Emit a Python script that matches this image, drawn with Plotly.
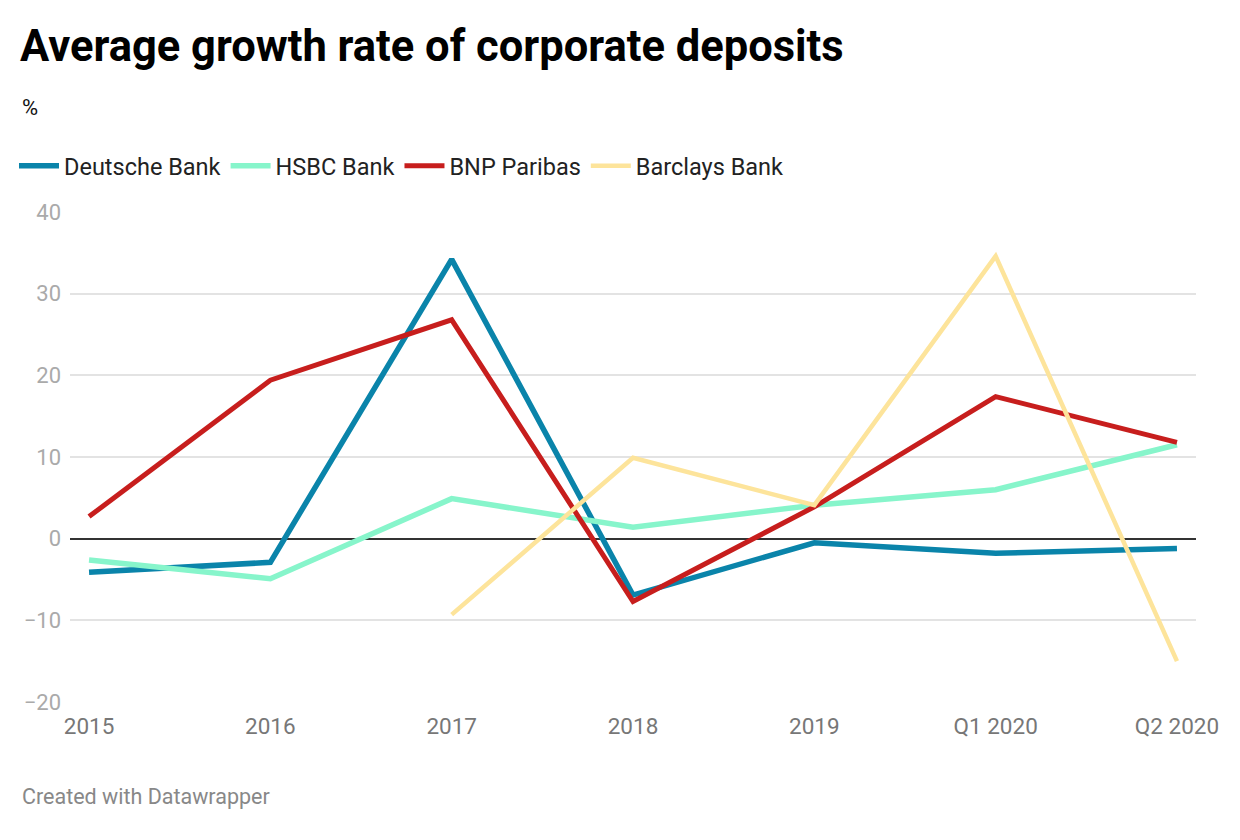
import plotly.graph_objects as go

periods = ['2015', '2016', '2017', '2018', '2019', 'Q1 2020', 'Q2 2020']
deutsche = [-4.1, -2.9, 34.2, -6.9, -0.5, -1.8, -1.2]
hsbc = [-2.6, -4.9, 4.9, 1.4, 4.1, 6.0, 11.5]
bnp = [2.7, 19.4, 26.8, -7.7, 3.9, 17.4, 11.8]
barclays = [None, None, -9.3, 9.9, 4.1, 34.6, -15.0]

# page body adds an 8px offset, so the figure is drawn 8px smaller
OFF = 8
W, H = 1240 - OFF, 840 - OFF
L, R, T, B = 70 - OFF, 44, 212 - OFF, 138
pw, ph = W - L - R, H - T - B

def px(xp):
    return (xp - OFF - L) / pw

def py(yp):
    return (H - B - (yp - OFF)) / ph

fig = go.Figure()
series = [
    ('Deutsche Bank', deutsche, '#0a84aa', 5.5),
    ('HSBC Bank', hsbc, '#87f5cb', 5.5),
    ('BNP Paribas', bnp, '#c71e1d', 5),
    ('Barclays Bank', barclays, '#fde49b', 4.5),
]
for name, vals, col, w in series:
    fig.add_trace(go.Scatter(x=periods, y=vals, name=name, mode='lines',
                             line=dict(color=col, width=w), connectgaps=False))

fig.update_layout(
    width=W, height=H,
    margin=dict(l=L, r=R, t=T, b=B),
    paper_bgcolor='white', plot_bgcolor='white',
    font=dict(family='Roboto', color='#333'),
    title=dict(text='<b>Average growth rate of corporate deposits</b>',
               font=dict(size=43.5, color='#000', family='Roboto'),
               xref='container', x=(20 - OFF) / W, xanchor='left',
               yref='container', y=1 - (46 - OFF) / H, yanchor='middle'),
    legend=dict(orientation='h', xref='container', x=(14 - OFF) / W, xanchor='left',
                yref='container', y=1 - (166 - OFF) / H, yanchor='middle',
                font=dict(size=23.5, color='#222'), itemwidth=40,
                tracegroupgap=0),
    showlegend=True,
)
fig.update_xaxes(range=[-0.105, 6.105], showgrid=False, zeroline=False, showline=False,
                 tickfont=dict(size=22.5, color='#777'), ticks='', ticklabelstandoff=8)
fig.update_yaxes(range=[-20, 40], tickvals=[-20, -10, 0, 10, 20, 30, 40],
                 ticktext=['\u221220', '\u221210', '0', '10', '20', '30', '40'],
                 showgrid=True, gridcolor='#e3e3e3', gridwidth=1.5,
                 zeroline=True, zerolinecolor='#333', zerolinewidth=1.5,
                 tickfont=dict(size=22, color='#aaa'), ticks='', ticklabelstandoff=8)

fig.add_annotation(text='%', xref='paper', yref='paper', x=px(20), y=py(107),
                   xanchor='left', yanchor='middle', showarrow=False,
                   font=dict(size=22, color='#111'))
fig.add_annotation(text='Created with Datawrapper', xref='paper', yref='paper',
                   x=px(20), y=py(796), xanchor='left', yanchor='middle',
                   showarrow=False, font=dict(size=21.5, color='#888'))

fig.write_html('out.html')
